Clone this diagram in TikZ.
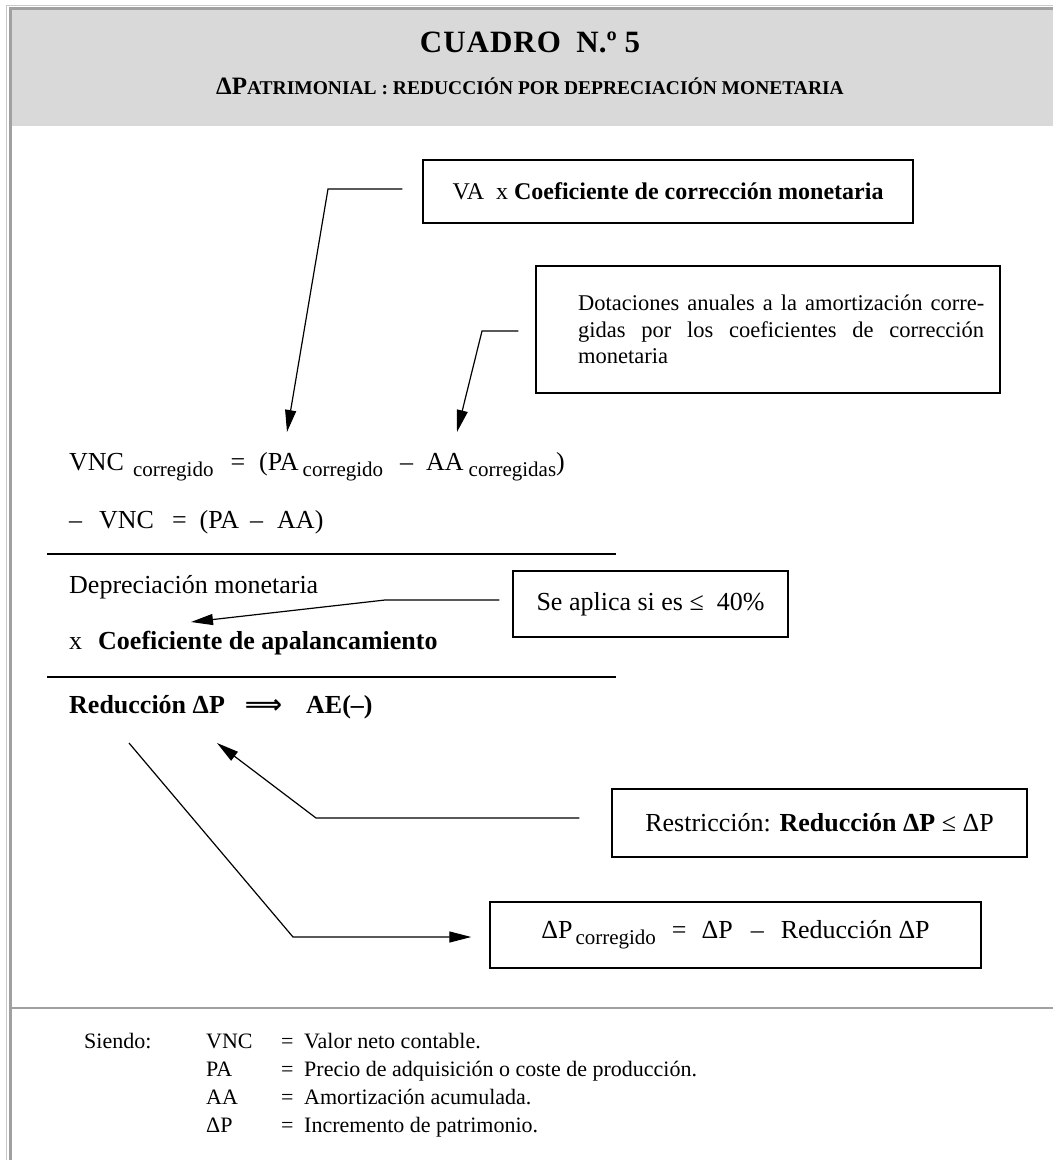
\documentclass[tikz,border=0pt]{standalone}
\usepackage{fontspec}
\setmainfont{Liberation Serif}
\newfontfamily\djvfont{DejaVu Sans}
\usetikzlibrary{arrows.meta}
\definecolor{hdr}{HTML}{D9D9D9}
\definecolor{frdark}{HTML}{A0A0A0}
\definecolor{frlight}{HTML}{C8C8C8}
\newcommand\szmain{\fontsize{26}{31}\selectfont}
\newcommand\szsub{\fontsize{21}{21}\selectfont}
\newcommand\szleg{\fontsize{22}{26}\selectfont}
\newcommand\szbox{\fontsize{22.5}{26.5}\selectfont}
\newcommand\lsub[1]{\raisebox{-6pt}{\szsub #1}}
\begin{document}
\begin{tikzpicture}[x=1pt,y=-1pt,
  txt/.style={inner sep=0pt, anchor=base west, font=\szmain},
  leg/.style={inner sep=0pt, anchor=base west, font=\szleg},
  boxn/.style={draw=black, line width=1.4pt, inner sep=0pt, font=\szmain},
  arr/.style={line width=1.2pt, -{Triangle[length=22pt,width=11pt]}},
  rulel/.style={line width=2pt}
]
\useasboundingbox (0,0) rectangle (1053,1160);
\fill[white] (0,0) rectangle (1053,1160);
\fill[hdr] (12,10) rectangle (1053,126);
\draw[frlight, line width=1pt] (6.5,1160) -- (6.5,5) -- (1053,5);
\draw[frdark, line width=3pt] (10.5,1160) -- (10.5,8.5) -- (1053,8.5);
\draw[frdark, line width=2pt] (12,1008) -- (1053,1008);

% header
\node[inner sep=0pt, anchor=base] (T) at (530,52) {\fontsize{31}{31}\selectfont\bfseries C\kern1ptU\kern1ptA\kern1ptD\kern1ptR\kern1ptO\ \ N.º\ 5};
\node[inner sep=0pt, anchor=base] (S) at (530,94) {\bfseries\fontsize{25}{25}\selectfont ΔP\fontsize{19.5}{19.5}\selectfont ATRIMONIAL : REDUCCIÓN POR DEPRECIACIÓN MONETARIA};

% boxes
\node[boxn, minimum width=490pt, minimum height=63pt, font=\fontsize{24}{28}\selectfont] (A) at (668,191.5) {VA\ \ x \textbf{Coeficiente de corrección monetaria}};
\node[boxn, minimum width=464pt, minimum height=127pt] (B) at (768,329.5) {};
\node[inner sep=0pt, anchor=base west, font=\szbox] (B1) at (578,310) {\makebox[406pt][s]{Dotaciones anuales a la amortización corre-}};
\node[inner sep=0pt, anchor=base west, font=\szbox] (B2) at (578,337) {\makebox[406pt][s]{gidas por los coeficientes de corrección}};
\node[inner sep=0pt, anchor=base west, font=\szbox] (B3) at (578,363) {monetaria};
\node[boxn, minimum width=275pt, minimum height=66pt] (C) at (650.5,604) {Se aplica si es ≤\ \ 40\%};
\node[boxn, minimum width=415pt, minimum height=68pt] (D) at (819.5,823) {Restricción: \textbf{Reducción ΔP} ≤ ΔP};
\node[boxn, minimum width=491pt, minimum height=66pt] (E) at (735.5,935) {ΔP\hspace{3pt}\lsub{corregido}\hspace{16pt}=\hspace{15pt}ΔP\hspace{18pt}–\hspace{17pt}Reducción ΔP};

% formula
\node[txt] (L1) at (69,470) {VNC\hspace{9pt}\lsub{corregido}\hspace{17pt}=\hspace{14pt}(PA\hspace{4pt}\lsub{corregido}\hspace{17pt}–\hspace{13pt}AA\hspace{5pt}\lsub{corregidas})};
\node[txt] (L2) at (69,528) {–\hspace{17pt}VNC\hspace{18pt}=\hspace{13pt}(PA\hspace{11pt}–\hspace{14pt}AA)};
\draw[rulel] (47,554) -- (616,554);
\node[txt] (L3) at (69,593) {Depreciación monetaria};
\node[txt] (L4) at (69,649) {x\hspace{16pt}\textbf{Coeficiente de apalancamiento}};
\draw[rulel] (47,677) -- (616,677);
\node[txt] (L5) at (69,713) {\textbf{Reducción ΔP}\hspace{20pt}{\djvfont\bfseries\fontsize{26}{26}\selectfont ⟹}\hspace{24pt}\textbf{AE(–)}};

% connectors
\coordinate (a1) at (328,189);
\coordinate (a2) at (287,432);
\draw[arr] ([xshift=-20pt,yshift=2.5pt]A.west) -- (a1) -- (a2);
\coordinate (b1) at (482,331);
\coordinate (b2) at (457,432);
\draw[arr] ([xshift=-17pt,yshift=-1.5pt]B.west) -- (b1) -- (b2);
\coordinate (c1) at (385,600);
\coordinate (c2) at (191,622);
\draw[arr] ([xshift=-13pt,yshift=4pt]C.west) -- (c1) -- (c2);
\coordinate (d1) at (316,818);
\coordinate (d2) at (217,743);
\draw[arr] ([xshift=-32pt,yshift=5pt]D.west) -- (d1) -- (d2);
\coordinate (e0) at (129,743);
\coordinate (e1) at (293,937);
\draw[arr] (e0) -- (e1) -- ([xshift=-18pt,yshift=-2pt]E.west);

% legend
\node[leg] (G0) at (84,1048) {Siendo:};
\node[leg] (G1a) at (206,1048) {VNC};
\node[leg] (G1b) at (281,1048) {=};
\node[leg] (G1c) at (304,1048) {Valor neto contable.};
\node[leg] (G2a) at (206,1076) {PA};
\node[leg] (G2b) at (281,1076) {=};
\node[leg] (G2c) at (304,1076) {Precio de adquisición o coste de producción.};
\node[leg] (G3a) at (206,1104) {AA};
\node[leg] (G3b) at (281,1104) {=};
\node[leg] (G3c) at (304,1104) {Amortización acumulada.};
\node[leg] (G4a) at (206,1132) {ΔP};
\node[leg] (G4b) at (281,1132) {=};
\node[leg] (G4c) at (304,1132) {Incremento de patrimonio.};
\end{tikzpicture}
\end{document}
